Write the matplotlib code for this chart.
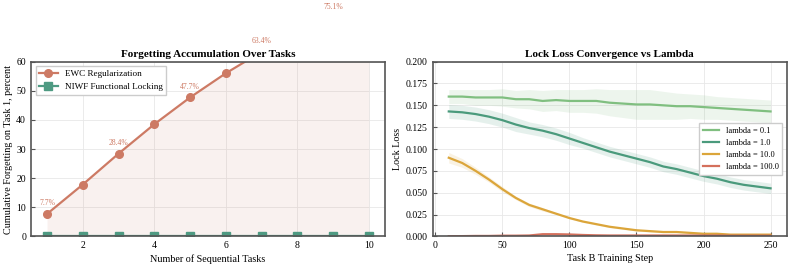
import numpy as np
import matplotlib.pyplot as plt
from matplotlib.ticker import FormatStrFormatter, MultipleLocator

plt.rcParams['font.family'] = ['Liberation Serif', 'DejaVu Serif']
plt.rcParams['xtick.direction'] = 'in'
plt.rcParams['ytick.direction'] = 'in'

# left panel data
tasks = np.arange(1, 11)
ewc = [7.7, 17.8, 28.4, 38.5, 47.7, 56.0, 63.4, 69.6, 75.1, 80.0]
niwf = [0.0] * 10

# right panel data
steps = np.arange(10, 260, 10)
loss = {
    'lambda = 0.1': [0.160, 0.160, 0.159, 0.159, 0.159, 0.157, 0.157, 0.155, 0.156, 0.155,
                     0.155, 0.155, 0.153, 0.152, 0.151, 0.151, 0.150, 0.149, 0.149, 0.148,
                     0.147, 0.146, 0.145, 0.144, 0.143],
    'lambda = 1.0': [0.143, 0.142, 0.140, 0.137, 0.133, 0.128, 0.124, 0.121, 0.117, 0.112,
                     0.107, 0.102, 0.097, 0.093, 0.089, 0.085, 0.080, 0.077, 0.073, 0.069,
                     0.066, 0.062, 0.059, 0.057, 0.055],
    'lambda = 10.0': [0.090, 0.084, 0.075, 0.065, 0.054, 0.044, 0.036, 0.031, 0.026, 0.021,
                      0.017, 0.014, 0.011, 0.009, 0.007, 0.006, 0.005, 0.005, 0.004, 0.003,
                      0.003, 0.002, 0.002, 0.002, 0.002],
    'lambda = 100.0': [0.0002, 0.0003, 0.0005, 0.0005, 0.0008, 0.0008, 0.0010, 0.0025, 0.0025, 0.0022,
                       0.0016, 0.0012, 0.0010, 0.0010, 0.0010, 0.0010, 0.0010, 0.0010, 0.0010, 0.0010,
                       0.0010, 0.0008, 0.0008, 0.0008, 0.0008],
}
spread = {
    'lambda = 0.1': [0.008, 0.008, 0.009, 0.009, 0.010, 0.010, 0.011, 0.012, 0.012, 0.013,
                     0.013, 0.014, 0.015, 0.016, 0.017, 0.017, 0.016, 0.015, 0.014, 0.014,
                     0.013, 0.013, 0.013, 0.013, 0.013],
    'lambda = 1.0': [0.008, 0.008, 0.008, 0.008, 0.008, 0.008, 0.007, 0.007, 0.007, 0.007,
                     0.006, 0.006, 0.006, 0.006, 0.006, 0.006, 0.006, 0.006, 0.006, 0.006,
                     0.006, 0.006, 0.006, 0.006, 0.006],
    'lambda = 10.0': [0.006, 0.005, 0.004, 0.003, 0.003, 0.002, 0.002, 0.002, 0.001, 0.001,
                      0.001, 0.001, 0.001, 0.001, 0.001, 0.001, 0.001, 0.001, 0.001, 0.001,
                      0.001, 0.001, 0.001, 0.001, 0.001],
    'lambda = 100.0': [0.0003] * 25,
}
colors = ['#80bf80', '#4a9a7c', '#dba53a', '#d4705c']
ewc_color = '#cd7a64'
niwf_color = '#4e9a82'

fig, (ax1, ax2) = plt.subplots(1, 2, figsize=(7.93, 2.68), dpi=100)
fig.subplots_adjust(left=0.039, right=0.992, top=0.77, bottom=0.118, wspace=0.135)

for ax in (ax1, ax2):
    ax.grid(True, color='#e8e8e8', linewidth=0.6)
    ax.set_axisbelow(True)
    for s in ax.spines.values():
        s.set_color('#555555')
        s.set_linewidth(1.2)
    ax.tick_params(labelsize=7, length=3, color='#555555')

ax1.fill_between(tasks, 0, ewc, color=ewc_color, alpha=0.1, linewidth=0)
ax1.plot(tasks, ewc, '-o', color=ewc_color, lw=1.6, ms=5.5, label='EWC Regularization')
ax1.plot(tasks, niwf, '-s', color=niwf_color, lw=1.6, ms=5.5, label='NIWF Functional Locking')
for t, v in zip(tasks[::2], ewc[::2]):
    ax1.annotate(f'{v:.1f}%', (t, v), xytext=(0, 5), textcoords='offset points',
                 ha='center', va='bottom', fontsize=5.5, color=ewc_color, annotation_clip=False)
ax1.set_ylim(0, 60)
ax1.set_xlabel('Number of Sequential Tasks', fontsize=7.3, labelpad=3)
ax1.set_ylabel('Cumulative Forgetting on Task 1, percent', fontsize=7.3, labelpad=2)
ax1.set_title('Forgetting Accumulation Over Tasks', fontsize=8, fontweight='bold', pad=3)
ax1.legend(loc='upper left', fontsize=6.6, fancybox=False, edgecolor='#cccccc', framealpha=1)

for (name, vals), c in zip(loss.items(), colors):
    vals = np.array(vals)
    sd = np.array(spread[name])
    ax2.fill_between(steps, vals - sd, vals + sd, color=c, alpha=0.14, linewidth=0)
    ax2.plot(steps, vals, color=c, lw=1.6, label=name)
ax2.set_ylim(0, 0.2)
ax2.yaxis.set_major_locator(MultipleLocator(0.025))
ax2.yaxis.set_major_formatter(FormatStrFormatter('%.3f'))
ax2.set_xlabel('Task B Training Step', fontsize=7.3, labelpad=3)
ax2.set_ylabel('Lock Loss', fontsize=7.3, labelpad=3)
ax2.set_title('Lock Loss Convergence vs Lambda', fontsize=8, fontweight='bold', pad=3)
ax2.legend(loc='center right', fontsize=6, fancybox=False, edgecolor='#cccccc', framealpha=1)

fig.savefig('out.png', dpi=100)
